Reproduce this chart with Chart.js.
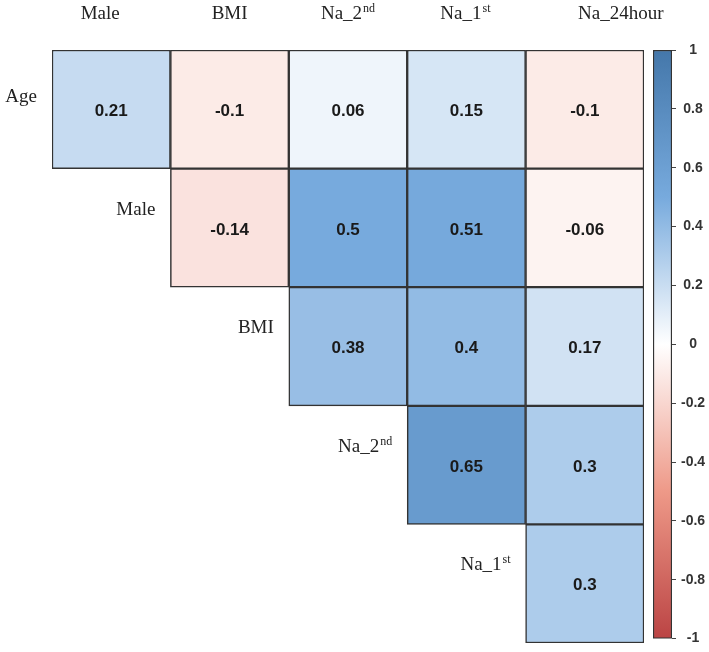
<!DOCTYPE html>
<html>
<head>
<meta charset="utf-8">
<script src="https://cdn.jsdelivr.net/npm/chart.js@4.4.1/dist/chart.umd.min.js"></script>
<style>
  html, body { margin: 0; padding: 0; background: #fff; }
  #wrap { position: relative; width: 709px; height: 652px; }
  #matrix { position: absolute; left: 0; top: 0; }
  #legend { position: absolute; left: 640px; top: 0; }
</style>
</head>
<body>
<div id="wrap">
  <canvas id="matrix" width="709" height="652"></canvas>
  <canvas id="legend" width="69" height="652"></canvas>
</div>
<script>
// variables, "^" marks the superscript part
const colNames = ['Male', 'BMI', 'Na_2^nd', 'Na_1^st', 'Na_24hour'];
const rowNames = ['Age', 'Male', 'BMI', 'Na_2^nd', 'Na_1^st'];

// upper triangle of the correlation matrix, null = not shown
const rowAge   = [0.21, -0.1, 0.06, 0.15, -0.1];
const rowMale  = [null, -0.14, 0.5, 0.51, -0.06];
const rowBMI   = [null, null, 0.38, 0.4, 0.17];
const rowNa2nd = [null, null, null, 0.65, 0.3];
const rowNa1st = [null, null, null, null, 0.3];
const corrRows = [rowAge, rowMale, rowBMI, rowNa2nd, rowNa1st];

const legendTicks = [1, 0.8, 0.6, 0.4, 0.2, 0, -0.2, -0.4, -0.6, -0.8, -1];

// palette from -1 to 1
const palette = ['#BB4444', '#EE9988', '#FFFFFF', '#77AADD', '#4477AA'];

function hexToRgb(h) {
    return [1, 3, 5].map(i => parseInt(h.substr(i, 2), 16));
}

function corrColor(v) {
    const t = (v + 1) / 2 * (palette.length - 1);
    const i = Math.min(Math.floor(t), palette.length - 2);
    const f = t - i;
    const a = hexToRgb(palette[i]);
    const b = hexToRgb(palette[i + 1]);
    const c = a.map((x, k) => Math.round(x + (b[k] - x) * f));
    return `rgb(${c[0]},${c[1]},${c[2]})`;
}

// draws "Na_2" + superscript "nd"
function drawLabel(ctx, text, x, y, align) {
    const parts = text.split('^');
    const base = parts[0];
    const sup = parts[1] || '';
    ctx.font = '19px "Liberation Serif", "Times New Roman", serif';
    const wBase = ctx.measureText(base).width;
    ctx.font = '12px "Liberation Serif", "Times New Roman", serif';
    const wSup = sup ? ctx.measureText(sup).width + 1 : 0;
    const total = wBase + wSup;
    let left = x;
    if (align === 'center') left = x - total / 2;
    if (align === 'right') left = x - total;
    ctx.textAlign = 'left';
    ctx.textBaseline = 'alphabetic';
    ctx.fillStyle = '#222';
    ctx.font = '19px "Liberation Serif", "Times New Roman", serif';
    ctx.fillText(base, left, y);
    if (sup) {
        ctx.font = '12px "Liberation Serif", "Times New Roman", serif';
        ctx.fillText(sup, left + wBase + 1, y - 7);
    }
}

const colLabelShift = [-11, 0, 0, -1, 36];

const labelPlugin = {
    id: 'labelPlugin',
    afterDatasetsDraw(chart) {
        const ctx = chart.ctx;
        const xs = chart.scales.x;
        const ys = chart.scales.y;
        const half = xs.getPixelForValue(1) - xs.getPixelForValue(0);
        ctx.save();
        // cell values
        ctx.font = 'bold 17px "Liberation Sans", Arial, sans-serif';
        ctx.fillStyle = '#1a1a1a';
        ctx.textAlign = 'center';
        ctx.textBaseline = 'middle';
        corrRows.forEach((row, r) => {
            row.forEach((v, c) => {
                if (v === null) return;
                ctx.fillText(String(v), xs.getPixelForValue(c), ys.getPixelForValue(r + 0.5) + 2);
            });
        });
        // column names on top
        colNames.forEach((name, c) => {
            drawLabel(ctx, name, xs.getPixelForValue(c) + colLabelShift[c], chart.chartArea.top - 31, 'center');
        });
        // row names beside the diagonal
        rowNames.forEach((name, r) => {
            const cellLeft = xs.getPixelForValue(r) - half / 2;
            const y = ys.getPixelForValue(r) + (r === 0 ? 52 : 46);
            drawLabel(ctx, name, cellLeft - 15, y, 'right');
        });
        ctx.restore();
    }
};

const datasets = corrRows.map((row, r) => ({
    label: rowNames[r],
    data: row.map(v => (v === null ? null : [r, r + 1])),
    backgroundColor: row.map(v => (v === null ? 'rgba(0,0,0,0)' : corrColor(v))),
    borderColor: '#333',
    borderWidth: 1.5,
    borderSkipped: false,
    barPercentage: 1,
    categoryPercentage: 1,
    grouped: false
}));

new Chart(document.getElementById('matrix').getContext('2d'), {
    type: 'bar',
    data: { labels: colNames, datasets: datasets },
    options: {
        responsive: false,
        animation: false,
        layout: { padding: { left: 52, top: 50, right: 65, bottom: 9 } },
        plugins: { legend: { display: false }, tooltip: { enabled: false } },
        scales: {
            x: { display: false },
            y: { display: false, min: 0, max: 5, reverse: true }
        }
    },
    plugins: [labelPlugin]
});

// colour key
new Chart(document.getElementById('legend').getContext('2d'), {
    type: 'bar',
    data: {
        labels: ['key'],
        datasets: [{
            data: [[-1, 1]],
            backgroundColor(context) {
                const area = context.chart.chartArea;
                if (!area) return '#fff';
                const g = context.chart.ctx.createLinearGradient(0, area.bottom, 0, area.top);
                palette.forEach((col, i) => g.addColorStop(i / (palette.length - 1), col));
                return g;
            },
            borderColor: '#333',
            borderWidth: 1.5,
            borderSkipped: false,
            barPercentage: 1,
            categoryPercentage: 1
        }]
    },
    options: {
        responsive: false,
        animation: false,
        layout: { padding: { left: 13, top: 50, right: 0, bottom: 9 } },
        plugins: { legend: { display: false }, tooltip: { enabled: false } },
        scales: {
            x: { display: false },
            y: {
                position: 'right',
                min: -1,
                max: 1,
                afterBuildTicks(scale) {
                    scale.ticks = legendTicks.map(v => ({ value: v }));
                },
                afterFit(scale) {
                    scale.width = 37;
                },
                grid: { drawOnChartArea: false, tickLength: 4, color: '#444' },
                border: { display: false },
                ticks: {
                    padding: 5,
                    crossAlign: 'center',
                    color: '#333',
                    font: { family: '"Liberation Sans", Arial, sans-serif', size: 14, weight: 'bold' },
                    callback: v => String(v)
                }
            }
        }
    }
});
</script>
</body>
</html>
